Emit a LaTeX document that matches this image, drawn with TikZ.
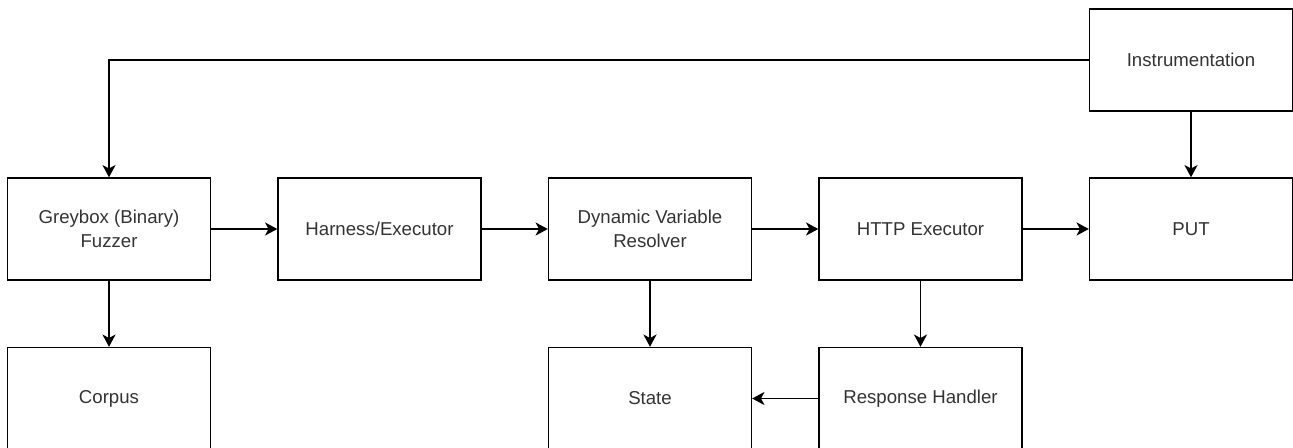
\documentclass[tikz,border=0pt]{standalone}
\usepackage{fontspec}
\setmainfont{Liberation Sans}
\usetikzlibrary{arrows.meta}
\begin{document}
\begin{tikzpicture}[
        font=\fontsize{10.6}{13.6}\selectfont,
        block/.style={draw, line width=0.8pt, minimum width=4.06cm, minimum height=2.04cm,
            align=center, text=black!80, inner sep=2pt},
        flow/.style={draw, line width=0.8pt, -{Stealth[length=7pt,width=7.5pt,inset=2pt]}},
        ]
        \useasboundingbox (0,0) rectangle (25.86,-8.96);
        % top row
        \node[block] (fuzzer) at (2.18,-4.58) {Greybox (Binary)\\Fuzzer};
        \node[block] (harness) at (7.59,-4.58) {Harness/Executor};
        \node[block] (resolver) at (13.0,-4.58) {Dynamic Variable\\Resolver};
        \node[block] (http) at (18.41,-4.58) {HTTP Executor};
        \node[block] (put) at (23.82,-4.58) {PUT};
        \node[block] (instr) at (23.82,-1.2) {Instrumentation};
        % bottom row
        \node[block] (corpus) at (2.18,-7.97) {Corpus};
        \node[block] (state) at (13.0,-7.97) {State};
        \node[block] (response) at (18.41,-7.97) {Response Handler};

        \draw[flow] (fuzzer) -- (harness);
        \draw[flow] (harness) -- (resolver);
        \draw[flow] (resolver) -- (http);
        \draw[flow] (http) -- (put);
        \draw[flow] (instr) -- (put);
        \draw[flow] (instr.west) -| (fuzzer.north);
        \draw[flow] (fuzzer) -- (corpus);
        \draw[flow] (resolver) -- (state);
        \draw[flow] (http) -- (response);
        \draw[flow] (response) -- (state);
    \end{tikzpicture}
\end{document}
